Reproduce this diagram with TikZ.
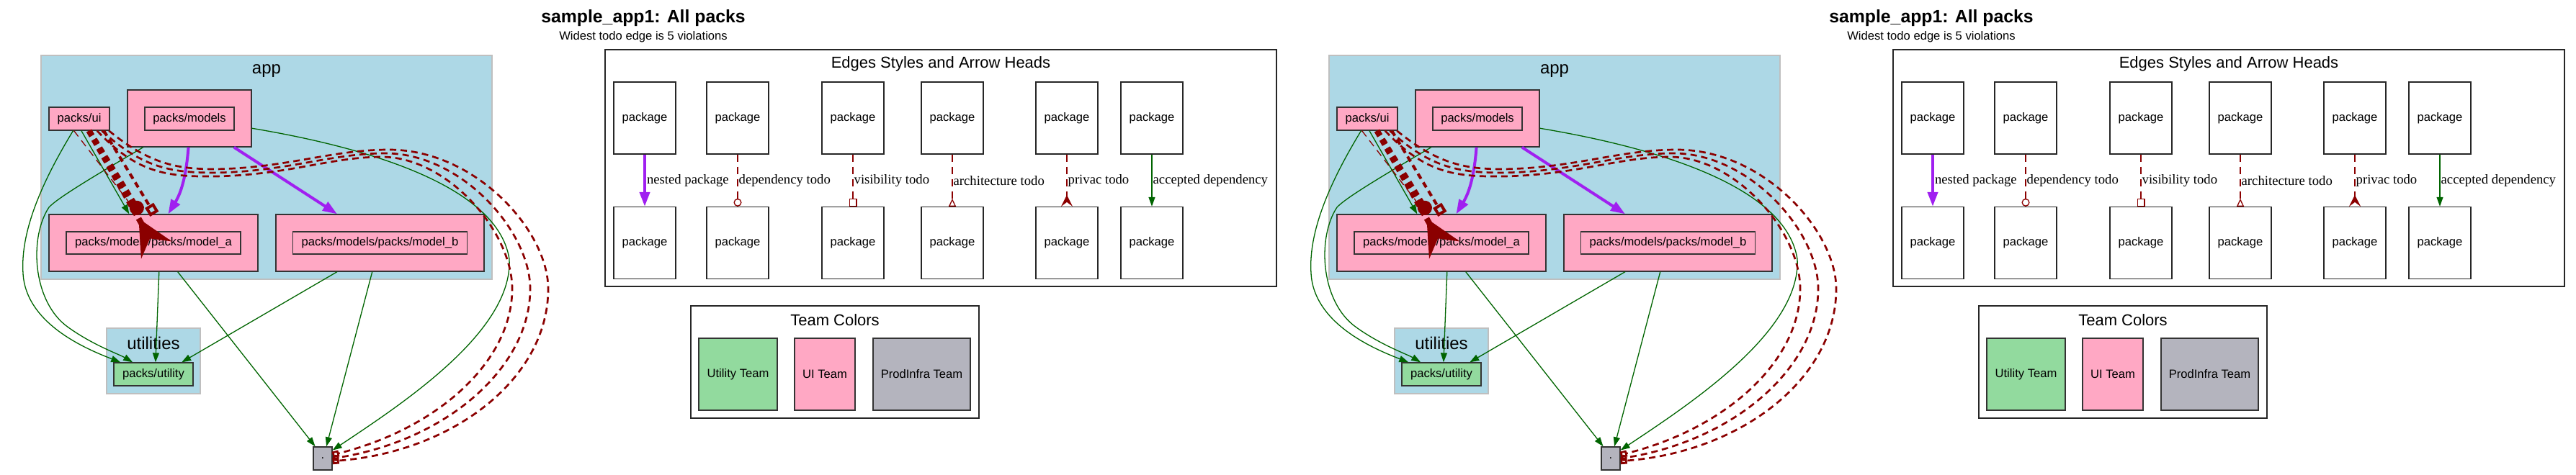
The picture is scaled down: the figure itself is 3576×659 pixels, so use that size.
\documentclass[tikz,border=0pt]{standalone}
\usepackage{fontspec}
\setmainfont{Liberation Sans}
\newfontfamily\edgefont{Liberation Serif}
\usetikzlibrary{arrows.meta,positioning}
\newcommand\pkfont{\fontsize{16.6pt}{20pt}\selectfont}
\definecolor{uipink}{RGB}{255,168,196}
\definecolor{utilgreen}{RGB}{146,218,158}
\definecolor{infragray}{RGB}{180,180,190}
\definecolor{clusterblue}{RGB}{173,216,230}
\definecolor{todored}{RGB}{139,0,0}
\definecolor{okgreen}{RGB}{0,100,0}
\definecolor{nestpurple}{RGB}{160,32,240}
\definecolor{nodeborder}{RGB}{51,51,51}
\tikzset{
    % Box styles
    group box/.style={
        draw=black!25,
        fill=clusterblue,
        line width=1.3pt,
        rectangle,
        inner sep=0pt
    },
    pack cluster/.style={
        draw=nodeborder,
        fill=uipink,
        line width=1.3pt,
        rectangle,
        inner sep=0pt,
        minimum height=79pt
    },
    pack box/.style={
        draw=nodeborder,
        fill=uipink,
        line width=1.3pt,
        rectangle,
        inner sep=0pt,
        minimum height=32pt,
        font=\pkfont
    },
    util box/.style={pack box, fill=utilgreen},
    root box/.style={pack box, fill=infragray, minimum width=26pt},
    legend frame/.style={
        draw=black!85,
        line width=1.3pt,
        rectangle,
        inner sep=0pt
    },
    sample box/.style={
        draw=black!85,
        fill=white,
        line width=1.3pt,
        inner sep=0pt,
        minimum width=86pt,
        minimum height=100pt,
        font=\pkfont
    },
    team box/.style={
        draw=nodeborder,
        line width=1.3pt,
        inner sep=0pt,
        minimum height=100pt,
        font=\pkfont
    },
    group title/.style={font=\fontsize{24pt}{28pt}\selectfont},
    legend title/.style={font=\fontsize{22pt}{26pt}\selectfont},
    % Arrow styles
    accepted/.style={
        okgreen,
        line width=1.3pt,
        -{Triangle[length=13pt,width=9pt]}
    },
    nested/.style={
        nestpurple,
        line width=4pt,
        -{Triangle[length=20pt,width=14pt]}
    },
    todo/.style={
        todored,
        line width=1.3pt,
        dash pattern=on 10pt off 7pt
    },
    heavy todo/.style={
        todored,
        line width=8pt,
        dash pattern=on 8pt off 6pt
    },
    edge label/.style={
        font=\edgefont\fontsize{18.7pt}{22pt}\selectfont,
        anchor=west,
        inner sep=1pt,
        text=black
    }
}

\begin{document}
\begin{tikzpicture}[x=1pt, y=-1pt]
    \useasboundingbox (0,0) rectangle (3576,659);

    \foreach \p/\dx in {L/0, R/1788} {
    \begin{scope}[xshift=\dx pt]
        % title
        \node[font=\bfseries\fontsize{24.8pt}{28pt}\selectfont] (\p-title) at (893,25) {sample\_app1: All packs};
        \node[font=\pkfont, below=0pt of \p-title] (\p-sub) {Widest todo edge is 5 violations};

        % clusters
        \node[group box, minimum width=626pt, minimum height=311pt] (\p-app) at (370,232.5) {};
        \node[group title] (\p-applbl) at (370,99) {app};
        \node[group box, minimum width=130pt, minimum height=91pt] (\p-utils) at (213,501.5) {};
        \node[group title] (\p-utilslbl) at (213,477) {utilities};

        % packages
        \node[pack box, minimum width=84pt] (\p-ui) at (110,165) {packs/ui};
        \node[pack cluster, minimum width=172pt] (\p-models) at (263,164.5) {};
        \node[pack box, minimum width=124pt] (\p-modelsin) at (263,165) {packs/models};
        \node[pack cluster, minimum width=290pt] (\p-ma) at (213,337.5) {};
        \node[pack box, minimum width=242pt, minimum height=31pt] (\p-main) at (213,337.5) {packs/models/packs/model\_a};
        \node[pack cluster, minimum width=289pt] (\p-mb) at (527.5,337.5) {};
        \node[pack box, minimum width=242pt, minimum height=31pt] (\p-mbin) at (527.5,337.5) {packs/models/packs/model\_b};
        \node[util box, minimum width=110pt] (\p-util) at (213,520) {packs/utility};
        \node[root box] (\p-root) at (448,637) {.};
        \coordinate (\p-crow) at (217,347);

        % accepted dependencies
        \draw[accepted] (\p-ui.-80) -- (\p-ma.130);
        \draw[accepted] (\p-ui.-117) .. controls (60,250) and (28,320) .. (32,380)
            .. controls (36,450) and (120,485) .. (\p-util.160);
        \draw[accepted] (\p-models.-148) .. controls (130,245) and (80,275) .. (68,288)
            .. controls (40,330) and (45,420) .. (95,455)
            .. controls (130,480) and (165,492) .. (\p-util.150);
        \draw[accepted] (\p-models.-9) .. controls (480,200) and (690,250) .. (707,360)
            .. controls (712,460) and (560,560) .. (\p-root.40);
        \draw[accepted] (\p-ma.-79) -- (\p-util.80);
        \draw[accepted] (\p-ma.-50) -- (\p-root.122);
        \draw[accepted] (\p-mb.-146) -- (\p-util.23);
        \draw[accepted] (\p-mb.-105) -- (\p-root.73);

        % nested packages
        \draw[nested] (\p-models.-92) .. controls (258,250) and (250,270) .. (\p-ma.63);
        \draw[nested] (\p-models.-33) -- (\p-mb.146);

        % todo edges
        \draw[todo, -{Triangle[open,length=10pt,width=8pt]}] (\p-ui.-114) -- (\p-ma.118);
        \draw[todo, line width=4pt, dash pattern=on 8pt off 6pt, -{Square[open,length=14pt]}] (\p-ui.-26) -- (\p-ma.88);
        \draw[heavy todo, -{Circle[length=20pt]}] (\p-ui.-51) -- (\p-ma.114);
        \draw[heavy todo, -{Stealth[reversed,length=50pt,width=48pt,inset=18pt]}] (\p-ui.-51) -- (\p-crow);
        \draw[todo, line width=2.7pt, dash pattern=on 9pt off 6pt, -{Square[open,length=9pt]}]
            (\p-ui.-34) .. controls (190,240) and (230,246) .. (300,245)
            .. controls (400,243) and (460,218) .. (530,218)
            .. controls (620,218) and (710,320) .. (711,400)
            .. controls (712,500) and (610,595) .. (\p-root.20);
        \draw[todo, line width=2.7pt, dash pattern=on 9pt off 6pt, -{Circle[open,length=9pt]}]
            (\p-ui.-28) .. controls (200,235) and (240,240) .. (300,240)
            .. controls (400,238) and (460,213) .. (535,213)
            .. controls (640,213) and (735,320) .. (736,400)
            .. controls (737,510) and (620,612) .. (\p-root.east);
        \draw[todo, line width=2.7pt, dash pattern=on 9pt off 6pt, -{Square[open,length=9pt]}]
            (\p-ui.-22) .. controls (210,230) and (250,235) .. (300,235)
            .. controls (400,233) and (460,208) .. (540,208)
            .. controls (660,208) and (760,320) .. (761,400)
            .. controls (762,525) and (630,628) .. (\p-root.-15);

        % legend: edges
        \node[legend frame, minimum width=932pt, minimum height=329pt] (\p-edges) at (1306,233.5) {};
        \node[legend title] (\p-edgeslbl) at (1306,89) {Edges Styles and Arrow Heads};
        \foreach \i/\x in {1/895, 2/1024, 3/1184, 4/1322, 5/1481, 6/1599} {
            \node[sample box] (\p-t\i) at (\x,164) {package};
            \node[sample box] (\p-b\i) at (\x,337.5) {package};
        }
        \draw[nested] (\p-t1) -- (\p-b1) node[edge label, pos=.5] {nested package};
        \draw[todo, -{Circle[open,length=11pt]}] (\p-t2) -- (\p-b2) node[edge label, pos=.5] {dependency todo};
        \draw[todo, -{Square[open,length=11pt]}] (\p-t3) -- (\p-b3) node[edge label, pos=.5] {visibility todo};
        \draw[todo, -{Triangle[open,reversed,length=11pt,width=10pt]}] (\p-t4) -- (\p-b4) node[edge label, pos=.5] {architecture todo};
        \draw[todo, -{Stealth[reversed,length=16pt,width=16pt,inset=6pt]}] (\p-t5) -- (\p-b5) node[edge label, pos=.5] {privac todo};
        \draw[accepted] (\p-t6) -- (\p-b6) node[edge label, pos=.5] {accepted dependency};

        % legend: teams
        \node[legend frame, minimum width=400pt, minimum height=156pt] (\p-teams) at (1159,503) {};
        \node[legend title] (\p-teamslbl) at (1159,445) {Team Colors};
        \node[team box, fill=utilgreen, minimum width=109pt] (\p-utilteam) at (1024.5,520) {Utility Team};
        \node[team box, fill=uipink, minimum width=84pt] (\p-uiteam) at (1145,520) {UI Team};
        \node[team box, fill=infragray, minimum width=135pt] (\p-infrateam) at (1279.5,520) {ProdInfra Team};
    \end{scope}
    }
\end{tikzpicture}
\end{document}
